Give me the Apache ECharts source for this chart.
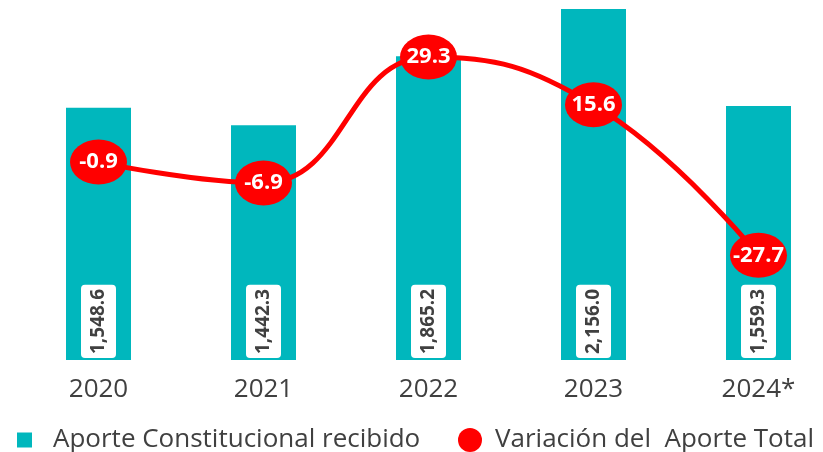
<!DOCTYPE html>
<html lang="es">
  <head>
    <meta charset="UTF-8" />
    <title>Aporte Constitucional</title>
    <style>
      html, body { margin: 0; padding: 0; background: #fff; }
      #chart { width: 823px; height: 452px; }
    </style>
  </head>
  <body>
    <div id="chart"></div>
    <script src="https://cdn.jsdelivr.net/npm/echarts@6/dist/echarts.min.js"></script>
    <script>
      // datos
      var years = ["2020", "2021", "2022", "2023", "2024*"];
      var aporte = [1548.6, 1442.3, 1865.2, 2156.0, 1559.3];
      var variacion = [-0.9, -6.9, 29.3, 15.6, -27.7];

      var teal = "#00B7BD";
      var red = "#FF0000";
      var gris = "#404040";

      var myChart = echarts.init(document.getElementById("chart"));

      var option = {
        animation: false,
        textStyle: { fontFamily: "Open Sans" },
        grid: { left: 16, top: 0, width: 825, height: 360, outerBoundsMode: "none", containLabel: false },
        legend: [
          {
            data: [{ name: "Aporte Constitucional recibido", icon: "rect" }],
            left: 12,
            top: 422,
            itemWidth: 15,
            itemHeight: 15,
            textStyle: { color: gris, fontSize: 26, fontFamily: "Open Sans", padding: [0, 0, 0, 16] }
          },
          {
            data: [{ name: "Variación del  Aporte Total", icon: "circle" }],
            left: 453,
            top: 422,
            itemWidth: 34,
            itemHeight: 24,
            textStyle: { color: gris, fontSize: 26, fontFamily: "Open Sans", padding: [0, 0, 0, 3] }
          }
        ],
        xAxis: {
          type: "category",
          data: years,
          axisLine: { show: false },
          axisTick: { show: false },
          axisLabel: { color: gris, fontSize: 26, margin: 17 }
        },
        yAxis: [
          { type: "value", min: 0, max: 2211, show: false, splitLine: { show: false } },
          { type: "value", min: -57.8, max: 45.7, show: false, splitLine: { show: false } }
        ],
        series: [
          {
            name: "Aporte Constitucional recibido",
            type: "bar",
            data: aporte,
            barWidth: 65,
            itemStyle: { color: teal },
            label: {
              show: true,
              position: "insideBottom",
              rotate: 90,
              align: "left",
              verticalAlign: "middle",
              distance: 2,
              formatter: function (p) {
                return p.value.toLocaleString("en-US", { minimumFractionDigits: 1, maximumFractionDigits: 1 });
              },
              color: gris,
              fontSize: 19,
              fontWeight: "bold",
              fontFamily: "Open Sans",
              backgroundColor: "#fff",
              borderRadius: 4,
              padding: [8, 4, 8, 4]
            }
          },
          {
            name: "Variación del  Aporte Total",
            type: "line",
            yAxisIndex: 1,
            data: variacion,
            smooth: 0.45,
            symbol: "circle",
            symbolSize: [57, 45],
            lineStyle: { color: red, width: 5 },
            itemStyle: { color: red },
            label: {
              show: true,
              position: "inside",
              color: "#fff",
              fontSize: 22,
              fontWeight: "bold",
              formatter: function (p) { return p.value.toFixed(1); }
            },
            z: 3
          }
        ]
      };

      myChart.setOption(option);
      window.onresize = function () {
        myChart.resize();
      };
    </script>
  </body>
</html>
